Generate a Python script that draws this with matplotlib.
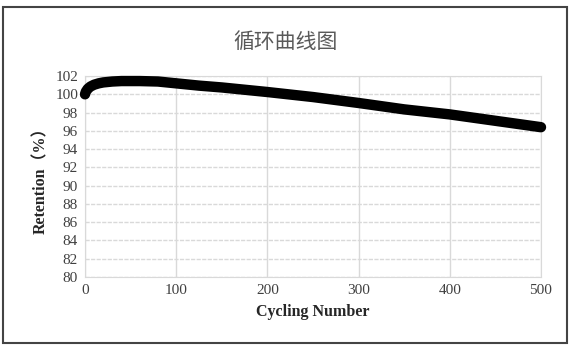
import matplotlib
matplotlib.use("Agg")
from matplotlib import pyplot as plt
from matplotlib.patches import Rectangle

# 数据
cycles = [0, 1, 3, 6, 10, 15, 20, 30, 40, 60, 80, 100, 125, 150, 175, 200,
          250, 300, 350, 400, 450, 500]
retention = [100.0, 100.3, 100.6, 100.85, 101.05, 101.2, 101.3, 101.4, 101.45,
             101.45, 101.4, 101.2, 100.95, 100.75, 100.5, 100.25, 99.7, 99.05,
             98.35, 97.8, 97.1, 96.4]

x_ticks = [0, 100, 200, 300, 400, 500]
y_ticks = list(range(80, 103, 2))

fig = plt.figure(figsize=(5.72, 3.52), dpi=100)
ax = fig.add_axes([0.1486, 0.213, 0.7972, 0.571])

# 外框
fig.patches.append(Rectangle((0.006, 0.025), 0.986, 0.955, transform=fig.transFigure,
                             fill=False, edgecolor="#444444", linewidth=1.5))

ax.plot(cycles, retention, color="black", linewidth=7.5, solid_capstyle="round",
        solid_joinstyle="round", zorder=3, clip_on=False)

ax.set_xlim(0, 500)
ax.set_ylim(80, 102)
ax.set_xticks(x_ticks)
ax.set_yticks(y_ticks)
ax.grid(axis="x", color="#d9d9d9", linewidth=1.0)
ax.grid(axis="y", color="#d9d9d9", linewidth=1.0, linestyle=(0, (3, 1)))
for s in ax.spines.values():
    s.set_color("#d9d9d9")
ax.tick_params(length=0, pad=5, labelsize=11, labelcolor="#404040")
for lab in ax.get_xticklabels() + ax.get_yticklabels():
    lab.set_family("Liberation Serif")

ax.set_xlabel("Cycling Number", family="Liberation Serif", fontweight="bold",
              fontsize=11.5, color="#262626", labelpad=5)
ax.set_ylabel("Retention（%）", family=["Liberation Serif", "Noto Sans CJK SC"],
              fontweight="bold", fontsize=11.5, color="#262626", labelpad=4)

fig.text(0.5, 0.88, "循环曲线图", family=["Noto Sans CJK SC"], fontsize=15,
         color="#595959", ha="center", va="center")

plt.savefig("out.png", dpi=100)
